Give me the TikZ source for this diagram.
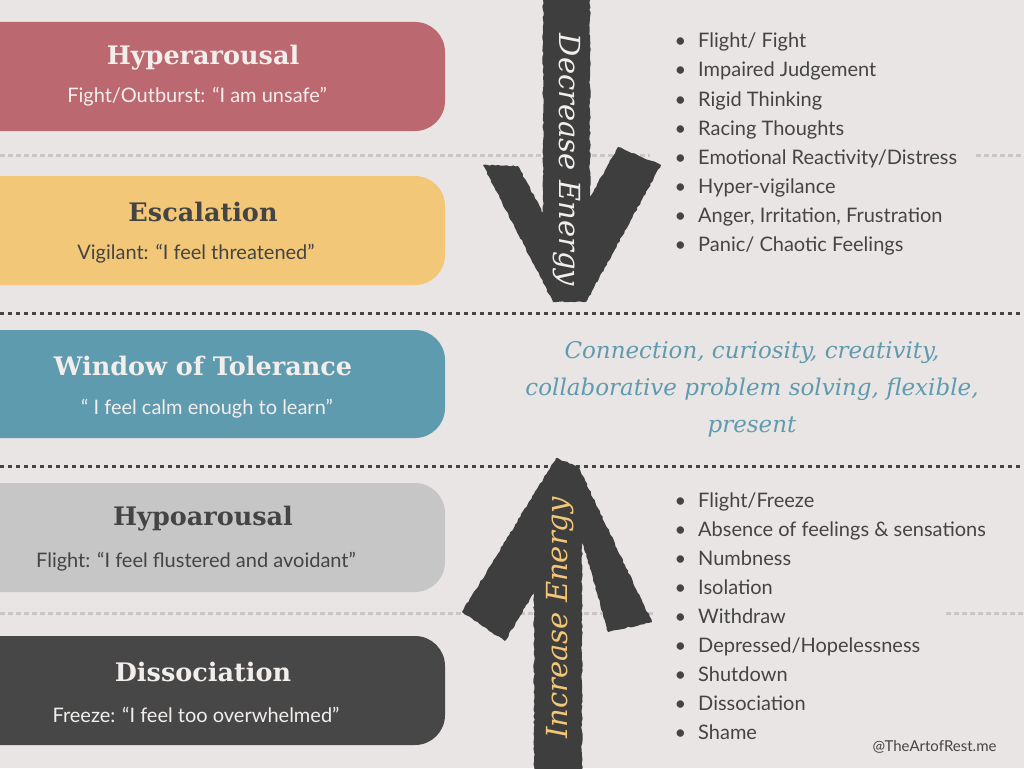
\documentclass[tikz,border=0pt]{standalone}
\usepackage{fontspec}
\setmainfont{Lato}
\newfontfamily\headfont{DejaVu Serif}
\newfontfamily\handfont{DejaVu Serif}
\usetikzlibrary{decorations.pathmorphing}

\definecolor{bg}{HTML}{E9E5E4}
\definecolor{redb}{HTML}{BC6870}
\definecolor{yellowb}{HTML}{F2C778}
\definecolor{tealb}{HTML}{5F9BAF}
\definecolor{greyb}{HTML}{C6C6C6}
\definecolor{darkb}{HTML}{474747}
\definecolor{ink}{HTML}{444444}
\definecolor{brushc}{HTML}{3E3E3E}
\definecolor{dotlight}{HTML}{C9C6C5}
\definecolor{textw}{HTML}{F2EEEC}

\begin{document}
\begin{tikzpicture}[x=1pt,y=-1pt,
  band/.style={rounded corners=30pt},
  head/.style={font=\headfont\bfseries\fontsize{25.5}{29}\selectfont},
  sub/.style={font=\fontsize{20}{24}\selectfont},
  item/.style={anchor=west,inner xsep=0pt,text height=14pt,text depth=4pt,
    text=ink,font=\fontsize{20}{24}\selectfont},
  lightdots/.style={dotlight,line width=3pt,dash pattern=on 5pt off 3pt},
  darkdots/.style={ink,line width=3pt,dash pattern=on 4pt off 4pt},
  brush/.style={fill=brushc,decorate,
    decoration={random steps,segment length=3pt,amplitude=0.7pt}},
  hand/.style={font=\handfont\itshape\fontsize{23}{37}\selectfont},
  energy/.style={font=\handfont\itshape\fontsize{29}{32}\selectfont}
]
  \fill[bg] (0,0) rectangle (1024,768);
  \clip (0,0) rectangle (1024,768);

  % separators
  \draw[lightdots] (0,155) -- (650,155);
  \draw[lightdots] (976,155) -- (1024,155);
  \draw[lightdots] (0,613) -- (655,613);
  \draw[lightdots] (946,613) -- (1024,613);
  \draw[darkdots] (0,313) -- (1024,313);
  \draw[darkdots] (0,466) -- (1024,466);

  % zones
  \fill[redb,band] (-40,22) rectangle (445,131);
  \fill[yellowb,band] (-40,176) rectangle (445,285);
  \fill[tealb,band] (-40,330) rectangle (445,438);
  \fill[greyb,band] (-40,483) rectangle (445,592);
  \fill[darkb,band] (-40,636) rectangle (445,745);

  \node[head,text=textw] (hyper) at (203,58) {Hyperarousal};
  \node[sub,text=textw] (hypersub) at (197,97) {Fight/Outburst: “I am unsafe”};
  \node[head,text=ink] (esc) at (203,212) {Escalation};
  \node[sub,text=ink] (escsub) at (196,254) {Vigilant: “I feel threatened”};
  \node[head,text=textw] (window) at (203,366) {Window of Tolerance};
  \node[sub,text=textw] (windowsub) at (207,409) {“ I feel calm enough to learn”};
  \node[head,text=ink] (hypo) at (203,519) {Hypoarousal};
  \node[sub,text=ink] (hyposub) at (196,562) {Flight: “I feel flustered and avoidant”};
  \node[head,text=textw] (diss) at (203,672) {Dissociation};
  \node[sub,text=textw] (disssub) at (196,715) {Freeze: “I feel too overwhelmed”};

  % brush arrows
  \fill[brush] (543,-5) -- (590,-5) -- (590,197) -- (618,147) -- (661,165)
    -- (586,302) -- (553,302) -- (483,165) -- (518,166) -- (543,213) -- cycle;
  \fill[brush] (534,773) -- (582,773) -- (582,540) -- (608,632) -- (652,622)
    -- (578,466) -- (556,458) -- (462,612) -- (505,641) -- (534,593) -- cycle;
  \node[energy,rotate=-90,text=textw] (down) at (567,160) {Decrease Energy};
  \node[energy,rotate=90,text=yellowb] (up) at (560,618) {Increase Energy};

  \node[hand,text=tealb,align=center] (calm) at (752,389)
    {Connection, curiosity, creativity,\\collaborative problem solving, flexible,\\present};

  \foreach \t [count=\i] in {Flight/ Fight, Impaired Judgement, Rigid Thinking,
      Racing Thoughts, Emotional Reactivity/Distress, Hyper-vigilance,
      {Anger, Irritation, Frustration}, Panic/ Chaotic Feelings}
    \node[item] (top\i) at (698,{14+29*\i}) {\llap{\textbullet\hspace{12pt}}\t};
  \foreach \t [count=\i] in {Flight/Freeze, Absence of feelings \& sensations,
      Numbness, Isolation, Withdraw, Depressed/Hopelessness, Shutdown,
      Dissociation, Shame}
    \node[item] (low\i) at (698,{473+29*\i}) {\llap{\textbullet\hspace{12pt}}\t};

  \node[anchor=east,text=ink,font=\fontsize{15}{17}\selectfont] (credit)
    at (1000,747) {@TheArtofRest.me};
\end{tikzpicture}
\end{document}
